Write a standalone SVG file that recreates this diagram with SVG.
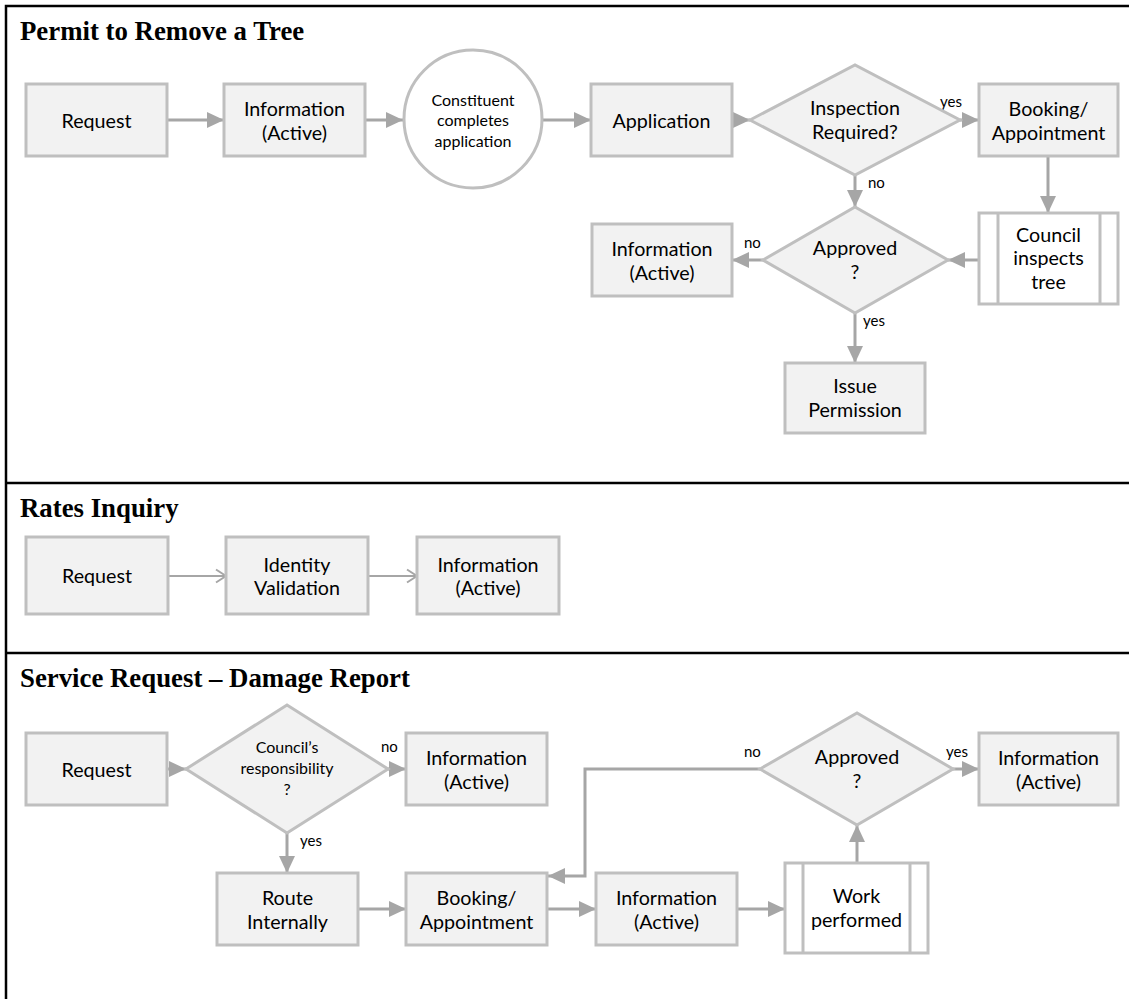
<svg xmlns="http://www.w3.org/2000/svg" width="1129" height="999" viewBox="0 0 1129 999">
  <style>
    .box { fill: #f2f2f2; stroke: #bfbfbf; stroke-width: 3; }
    .proc { fill: #ffffff; stroke: #bfbfbf; stroke-width: 3; }
    .t { font-family: Lato, "Liberation Sans", sans-serif; font-size: 19.7px; fill: #000; text-anchor: middle; }
    .s { font-family: Lato, "Liberation Sans", sans-serif; font-size: 16px; fill: #000; text-anchor: middle; }
    .lab { font-family: Lato, "Liberation Sans", sans-serif; font-size: 15px; fill: #000; }
    .title { font-family: "Liberation Serif", "Times New Roman", serif; font-weight: bold; font-size: 26.8px; fill: #000; }
    .frame { stroke: #000; stroke-width: 2.5; fill: none; }
    .c { fill: none; stroke: #a6a6a6; stroke-width: 3; marker-end: url(#tri); }
    .c2 { fill: none; stroke: #a6a6a6; stroke-width: 2; marker-end: url(#chev); }
  </style>
  <defs>
    <marker id="tri" viewBox="0 0 17 16" markerWidth="17" markerHeight="16" refX="17" refY="8" orient="auto" markerUnits="userSpaceOnUse">
      <path d="M0,0 L17,8 L0,16 z" fill="#a6a6a6"/>
    </marker>
    <marker id="chev" viewBox="0 0 12 16" markerWidth="12" markerHeight="16" refX="11" refY="8" orient="auto" markerUnits="userSpaceOnUse">
      <path d="M1,1.5 L11,8 L1,14.5" fill="none" stroke="#a6a6a6" stroke-width="2"/>
    </marker>
  </defs>

  <rect width="1129" height="999" fill="#ffffff"/>

  <!-- frame and section dividers -->
  <g id="frame">
    <path class="frame" d="M6,999 V6 H1129"/>
    <path class="frame" d="M6,483 H1129"/>
    <path class="frame" d="M6,653 H1129"/>
    <text class="title" x="20" y="40">Permit to Remove a Tree</text>
    <text class="title" x="20" y="517">Rates Inquiry</text>
    <text class="title" x="20" y="687">Service Request – Damage Report</text>
  </g>

  <!-- connectors -->
  <g id="connectors">
    <!-- permit -->
    <path class="c" d="M167,120 H224"/>
    <path class="c" d="M365,120 H403"/>
    <path class="c" d="M543,120 H591"/>
    <path class="c" d="M732,120 H750"/>
    <path class="c" d="M960,120 H979"/>
    <path class="c" d="M1048,156 V213"/>
    <path class="c" d="M855,175 V207"/>
    <path class="c" d="M979,260 H948"/>
    <path class="c" d="M763,260 H732"/>
    <path class="c" d="M855,313 V363"/>
    <!-- rates -->
    <path class="c2" d="M168,576 H226"/>
    <path class="c2" d="M368,576 H417"/>
    <!-- service request -->
    <path class="c" d="M167,769 H186"/>
    <path class="c" d="M388,769 H406"/>
    <path class="c" d="M287,833 V873"/>
    <path class="c" d="M358,909 H406"/>
    <path class="c" d="M547,909 H596"/>
    <path class="c" d="M737,909 H785"/>
    <path class="c" d="M857,863 V825"/>
    <path class="c" d="M953,769 H979"/>
    <path class="c" d="M760,769 H585 V876 H548"/>

    <text class="lab" x="940" y="107">yes</text>
    <text class="lab" x="868" y="188">no</text>
    <text class="lab" x="744" y="248">no</text>
    <text class="lab" x="863" y="326">yes</text>
    <text class="lab" x="381" y="752">no</text>
    <text class="lab" x="300" y="846">yes</text>
    <text class="lab" x="744" y="757">no</text>
    <text class="lab" x="946" y="757">yes</text>
  </g>

  <!-- Permit to Remove a Tree -->
  <g id="p-request">
    <rect class="box" x="26" y="84" width="141" height="72"/>
    <text class="t" x="96.5" y="127.5">Request</text>
  </g>
  <g id="p-info">
    <rect class="box" x="224" y="84" width="141" height="72"/>
    <text class="t" x="294.5" y="116">Information</text>
    <text class="t" x="294.5" y="139.5">(Active)</text>
  </g>
  <g id="p-constituent">
    <circle class="proc" cx="473" cy="119" r="69"/>
    <text class="s" x="473" y="105.5">Constituent</text>
    <text class="s" x="473" y="126">completes</text>
    <text class="s" x="473" y="146.5">application</text>
  </g>
  <g id="p-application">
    <rect class="box" x="591" y="84" width="141" height="72"/>
    <text class="t" x="661.5" y="127.5">Application</text>
  </g>
  <g id="p-inspection">
    <polygon class="box" points="750,120 855,65 960,120 855,175"/>
    <text class="t" x="855" y="115">Inspection</text>
    <text class="t" x="855" y="138.5">Required?</text>
  </g>
  <g id="p-booking">
    <rect class="box" x="979" y="84" width="139" height="72"/>
    <text class="t" x="1048.5" y="116">Booking/</text>
    <text class="t" x="1048.5" y="139.5">Appointment</text>
  </g>
  <g id="p-council">
    <rect class="proc" x="979" y="213" width="139" height="91"/>
    <path d="M998,213 V304 M1100,213 V304" stroke="#bfbfbf" stroke-width="3"/>
    <text class="t" x="1048.5" y="241.5">Council</text>
    <text class="t" x="1048.5" y="265">inspects</text>
    <text class="t" x="1048.5" y="288.5">tree</text>
  </g>
  <g id="p-approved">
    <polygon class="box" points="763,260 855,207 948,260 855,313"/>
    <text class="t" x="855" y="255">Approved</text>
    <text class="t" x="855" y="278.5">?</text>
  </g>
  <g id="p-info-no">
    <rect class="box" x="592" y="224" width="140" height="72"/>
    <text class="t" x="662" y="256">Information</text>
    <text class="t" x="662" y="279.5">(Active)</text>
  </g>
  <g id="p-issue">
    <rect class="box" x="785" y="363" width="140" height="70"/>
    <text class="t" x="855" y="393">Issue</text>
    <text class="t" x="855" y="416.5">Permission</text>
  </g>

  <!-- Rates Inquiry -->
  <g id="r-request">
    <rect class="box" x="26" y="537" width="142" height="77"/>
    <text class="t" x="97" y="583">Request</text>
  </g>
  <g id="r-identity">
    <rect class="box" x="226" y="537" width="142" height="77"/>
    <text class="t" x="297" y="571.5">Identity</text>
    <text class="t" x="297" y="595">Validation</text>
  </g>
  <g id="r-info">
    <rect class="box" x="417" y="537" width="142" height="77"/>
    <text class="t" x="488" y="571.5">Information</text>
    <text class="t" x="488" y="595">(Active)</text>
  </g>

  <!-- Service Request – Damage Report -->
  <g id="s-request">
    <rect class="box" x="26" y="733" width="141" height="72"/>
    <text class="t" x="96.5" y="776.5">Request</text>
  </g>
  <g id="s-responsibility">
    <polygon class="box" points="186,769 287,705 388,769 287,833"/>
    <text class="s" x="287" y="753">Council’s</text>
    <text class="s" x="287" y="774">responsibility</text>
    <text class="s" x="287" y="795">?</text>
  </g>
  <g id="s-info-no">
    <rect class="box" x="406" y="733" width="141" height="72"/>
    <text class="t" x="476.5" y="765">Information</text>
    <text class="t" x="476.5" y="788.5">(Active)</text>
  </g>
  <g id="s-route">
    <rect class="box" x="217" y="873" width="141" height="72"/>
    <text class="t" x="287.5" y="905">Route</text>
    <text class="t" x="287.5" y="928.5">Internally</text>
  </g>
  <g id="s-booking">
    <rect class="box" x="406" y="873" width="141" height="72"/>
    <text class="t" x="476.5" y="905">Booking/</text>
    <text class="t" x="476.5" y="928.5">Appointment</text>
  </g>
  <g id="s-info">
    <rect class="box" x="596" y="873" width="141" height="72"/>
    <text class="t" x="666.5" y="905">Information</text>
    <text class="t" x="666.5" y="928.5">(Active)</text>
  </g>
  <g id="s-work">
    <rect class="proc" x="785" y="863" width="143" height="90"/>
    <path d="M803,863 V953 M910,863 V953" stroke="#bfbfbf" stroke-width="3"/>
    <text class="t" x="856.5" y="903">Work</text>
    <text class="t" x="856.5" y="927">performed</text>
  </g>
  <g id="s-approved">
    <polygon class="box" points="760,769 857,713 953,769 857,825"/>
    <text class="t" x="857" y="764">Approved</text>
    <text class="t" x="857" y="788">?</text>
  </g>
  <g id="s-info-yes">
    <rect class="box" x="979" y="733" width="139" height="72"/>
    <text class="t" x="1048.5" y="765">Information</text>
    <text class="t" x="1048.5" y="788.5">(Active)</text>
  </g>
</svg>
